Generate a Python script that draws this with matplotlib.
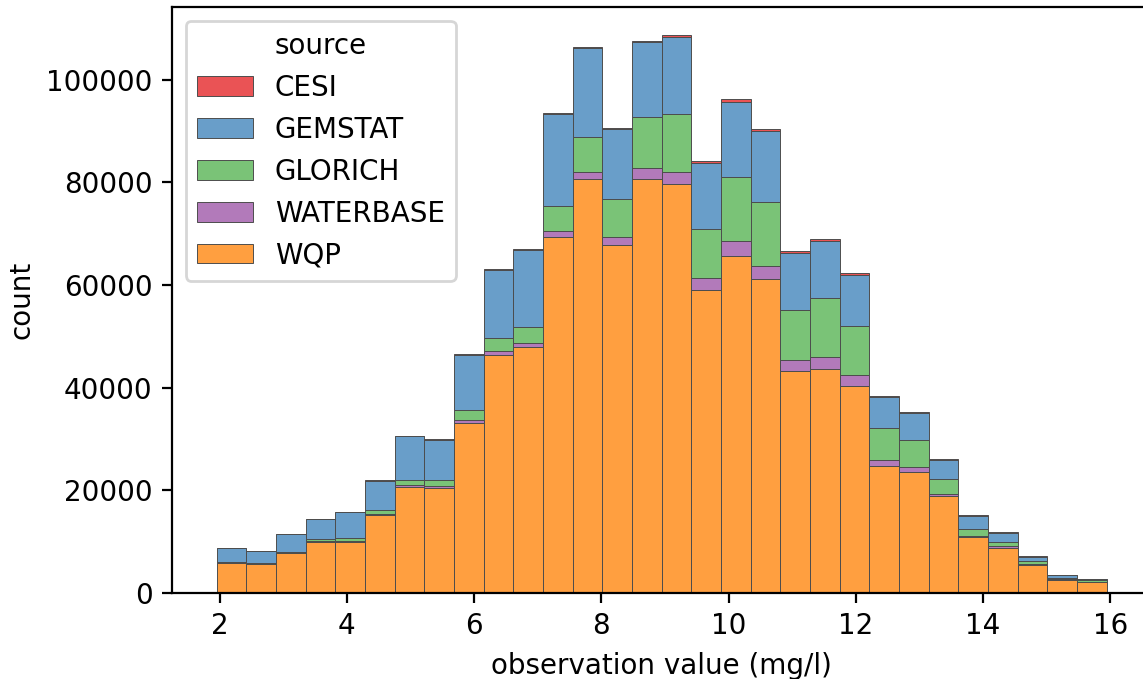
import numpy as np
import pandas as pd
import matplotlib
matplotlib.use("Agg")
import matplotlib.pyplot as plt
import seaborn as sns

# Histogram range and number of bins
x_lo, x_hi, n_bins = 1.95, 15.94, 30

sources = ["CESI", "GEMSTAT", "GLORICH", "WATERBASE", "WQP"]

# Counts per bin for each source
wqp = [5900, 5600, 7700, 9900, 9900, 15100, 20700, 20400, 33200, 46300,
       48000, 69300, 80600, 67900, 80700, 79600, 59000, 65600, 61200, 43200,
       43700, 40400, 24800, 23600, 18800, 10900, 8850, 5450, 2550, 2100]
waterbase = [100, 100, 150, 200, 300, 300, 400, 500, 600, 800,
             800, 1200, 1400, 1500, 2100, 2400, 2300, 2900, 2500, 2200,
             2300, 2000, 1100, 900, 500, 250, 300, 250, 150, 80]
glorich = [100, 100, 200, 500, 600, 700, 1000, 1100, 1800, 2600,
           3000, 4900, 6800, 7300, 9900, 11300, 9700, 12500, 12500, 9800,
           11400, 9700, 6200, 5300, 3000, 1400, 800, 450, 300, 300]
gemstat = [2600, 2400, 3450, 3800, 4900, 5800, 8400, 7900, 10800, 13300,
           15100, 18000, 17400, 13700, 14600, 15000, 12800, 14700, 13800, 11100,
           11100, 9800, 6000, 5300, 3700, 2450, 1750, 880, 420, 220]
cesi = [30, 30, 40, 50, 50, 50, 60, 60, 150, 200,
        150, 200, 250, 300, 300, 450, 400, 650, 450, 350,
        400, 400, 250, 250, 200, 150, 100, 80, 50, 30]

# Build a long table: one row per (bin centre, source) with its count as weight
edges = np.linspace(x_lo, x_hi, n_bins + 1)
centres = (edges[:-1] + edges[1:]) / 2
counts = {"CESI": cesi, "GEMSTAT": gemstat, "GLORICH": glorich,
          "WATERBASE": waterbase, "WQP": wqp}
rows = []
for src in sources:
    for c, n in zip(centres, counts[src]):
        rows.append({"value": c, "source": src, "n": n})
df = pd.DataFrame(rows)

fig = plt.figure(figsize=(5.715, 3.395), dpi=200)
ax = fig.add_axes([0.1505, 0.1267, 0.8565, 0.863])

sns.histplot(data=df, x="value", weights="n", hue="source", hue_order=sources,
             multiple="stack", bins=n_bins, binrange=(x_lo, x_hi),
             palette="Set1", edgecolor="0.3", linewidth=0.35, ax=ax)

ax.set_xlabel("observation value (mg/l)", fontsize=10)
ax.set_ylabel("count", fontsize=10)
ax.tick_params(labelsize=10)
leg = ax.get_legend()
leg.set_loc("upper left")
for t in leg.get_texts():
    t.set_fontsize(10)
leg.get_title().set_fontsize(10)

fig.savefig("out.png", dpi=200)
